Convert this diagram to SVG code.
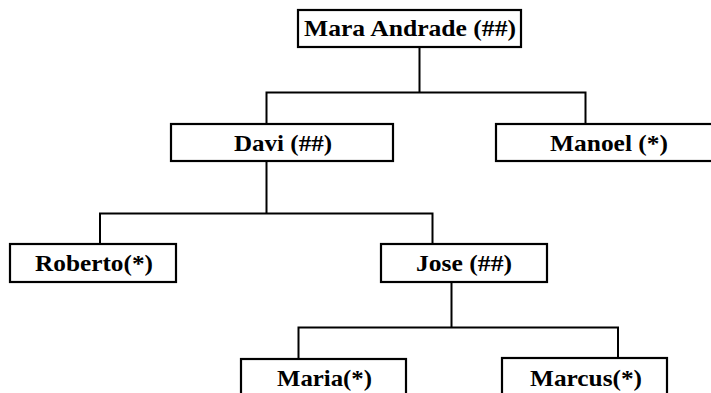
<svg xmlns="http://www.w3.org/2000/svg" width="711" height="393" viewBox="0 0 711 393">
<style>
.box{fill:#fff;stroke:#000;stroke-width:2.2}
.lbl{font-family:"Liberation Serif","Times New Roman",serif;font-weight:bold;font-size:23px;fill:#000}
.conn{fill:none;stroke:#000;stroke-width:2}
</style>
<rect width="711" height="393" fill="#fff"/>
<g id="connectors">
<path class="conn" d="M419.5 47V92.5M266.5 124V92.5H585.5V124"/>
<path class="conn" d="M266.5 161V213.5M100 244V213.5H432.5V244"/>
<path class="conn" d="M451.5 282V327.5M298.5 359V327.5H618V358"/>
</g>
<g id="mara"><rect class="box" x="298" y="10" width="223" height="37"/><text class="lbl" x="304" y="36" textLength="212" lengthAdjust="spacingAndGlyphs">Mara Andrade (##)</text></g>
<g id="davi"><rect class="box" x="171" y="124" width="222" height="37"/><text class="lbl" x="234" y="151" textLength="98" lengthAdjust="spacingAndGlyphs">Davi (##)</text></g>
<g id="manoel"><rect class="box" x="496" y="124" width="225" height="37"/><text class="lbl" x="550" y="151" textLength="118" lengthAdjust="spacingAndGlyphs">Manoel (*)</text></g>
<g id="roberto"><rect class="box" x="10" y="244" width="166" height="38"/><text class="lbl" x="35" y="271" textLength="118" lengthAdjust="spacingAndGlyphs">Roberto(*)</text></g>
<g id="jose"><rect class="box" x="381" y="244" width="166" height="38"/><text class="lbl" x="416" y="271" textLength="96" lengthAdjust="spacingAndGlyphs">Jose (##)</text></g>
<g id="maria"><rect class="box" x="241" y="359" width="165" height="45"/><text class="lbl" x="277" y="386" textLength="95" lengthAdjust="spacingAndGlyphs">Maria(*)</text></g>
<g id="marcus"><rect class="box" x="502" y="358" width="165" height="46"/><text class="lbl" x="530" y="386" textLength="112" lengthAdjust="spacingAndGlyphs">Marcus(*)</text></g>
</svg>
